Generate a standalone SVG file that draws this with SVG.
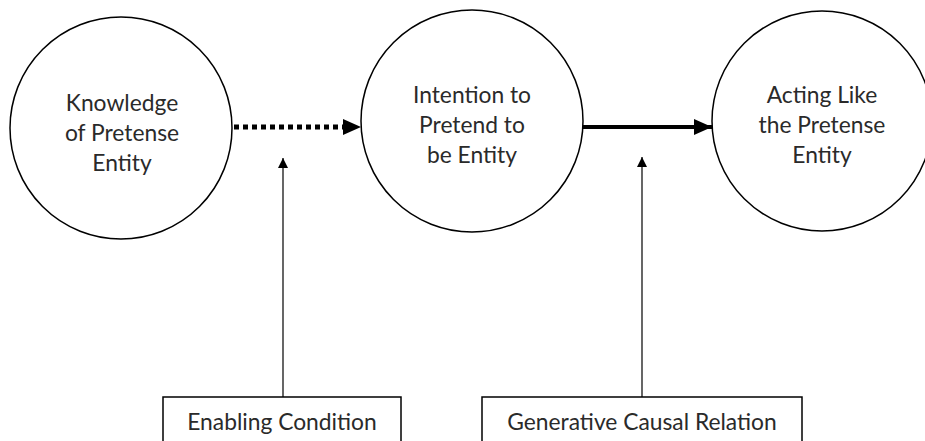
<svg xmlns="http://www.w3.org/2000/svg" width="925" height="441" viewBox="0 0 925 441">
<defs>
<style>
.node{fill:#fff;stroke:#000;stroke-width:1.5}
.lbl{font-family:Lato,"Liberation Sans",sans-serif;font-size:22.8px;fill:#2a2a2a;text-anchor:middle}
.box{fill:#fff;stroke:#000;stroke-width:1.5}
</style>
<marker id="big" markerUnits="userSpaceOnUse" markerWidth="18" markerHeight="16" refX="18" refY="8" orient="auto"><path d="M0,0 L18,8 L0,16 Z" fill="#000"/></marker>
<marker id="small" markerUnits="userSpaceOnUse" markerWidth="10" markerHeight="12" refX="10" refY="5" orient="auto"><path d="M0,0 L10,5 L0,10 Z" fill="#000"/></marker>
</defs>
<rect width="925" height="441" fill="#fff"/>
<g id="connectors">
<line x1="234" y1="127" x2="343" y2="127" stroke="#000" stroke-width="5" stroke-dasharray="5,4"/>
<path d="M343,119 L361,127 L343,135 Z" fill="#000"/>
<line x1="583" y1="127" x2="712" y2="127" stroke="#000" stroke-width="4" marker-end="url(#big)"/>
<line x1="283" y1="397" x2="283" y2="158" stroke="#000" stroke-width="1.2" marker-end="url(#small)"/>
<line x1="642" y1="397" x2="642" y2="157" stroke="#000" stroke-width="1.2" marker-end="url(#small)"/>
</g>
<g id="n1">
<circle class="node" cx="121" cy="128" r="111"/>
<text class="lbl" x="122" y="111">Knowledge</text>
<text class="lbl" x="122" y="141">of Pretense</text>
<text class="lbl" x="122" y="171">Entity</text>
</g>
<g id="n2">
<circle class="node" cx="472" cy="121" r="111"/>
<text class="lbl" x="472" y="103">Intention to</text>
<text class="lbl" x="472" y="133">Pretend to</text>
<text class="lbl" x="472" y="163">be Entity</text>
</g>
<g id="n3">
<circle class="node" cx="822" cy="121" r="110"/>
<text class="lbl" x="822" y="103">Acting Like</text>
<text class="lbl" x="822" y="133">the Pretense</text>
<text class="lbl" x="822" y="163">Entity</text>
</g>
<g id="b1">
<rect class="box" x="163" y="397" width="238" height="50"/>
<text class="lbl" x="282" y="430">Enabling Condition</text>
</g>
<g id="b2">
<rect class="box" x="482" y="397" width="320" height="50"/>
<text class="lbl" x="642" y="430">Generative Causal Relation</text>
</g>
</svg>
